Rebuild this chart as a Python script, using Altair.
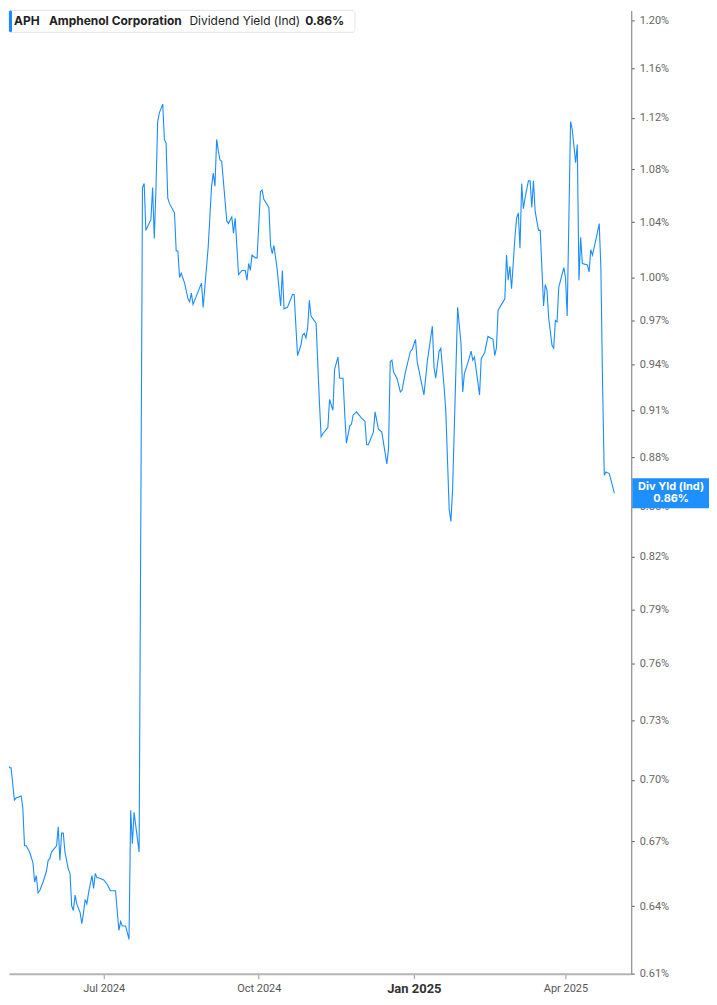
import altair as alt
import pandas as pd

dates = [
    "2024-05-01","2024-05-03","2024-05-04","2024-05-06","2024-05-07","2024-05-09","2024-05-10","2024-05-13",
    "2024-05-14","2024-05-15","2024-05-16","2024-05-18","2024-05-20","2024-05-21","2024-05-22","2024-05-23",
    "2024-05-24","2024-05-26","2024-05-28","2024-05-29","2024-05-30","2024-05-31","2024-06-03","2024-06-04",
    "2024-06-05","2024-06-06","2024-06-07","2024-06-08","2024-06-10","2024-06-11","2024-06-12","2024-06-13",
    "2024-06-14","2024-06-15","2024-06-17","2024-06-18","2024-06-19","2024-06-20","2024-06-21","2024-06-22",
    "2024-06-24","2024-06-25","2024-06-26","2024-06-27","2024-06-28","2024-07-01","2024-07-03","2024-07-05",
    "2024-07-06","2024-07-08","2024-07-10","2024-07-11","2024-07-12","2024-07-14","2024-07-16","2024-07-17",
    "2024-07-18","2024-07-19","2024-07-22","2024-07-24","2024-07-25","2024-07-26","2024-07-29","2024-07-30",
    "2024-07-31","2024-08-01","2024-08-02","2024-08-03","2024-08-05","2024-08-06","2024-08-07","2024-08-08",
    "2024-08-09","2024-08-12","2024-08-13","2024-08-14","2024-08-15","2024-08-16","2024-08-18","2024-08-20",
    "2024-08-21","2024-08-22","2024-08-23","2024-08-25","2024-08-28","2024-08-29","2024-09-01","2024-09-03",
    "2024-09-04","2024-09-05","2024-09-06","2024-09-07","2024-09-08","2024-09-09","2024-09-12","2024-09-13",
    "2024-09-15","2024-09-16","2024-09-17","2024-09-19","2024-09-21","2024-09-23","2024-09-24","2024-09-25",
    "2024-09-26","2024-09-27","2024-09-29","2024-09-30","2024-10-02","2024-10-03","2024-10-04","2024-10-07",
    "2024-10-08","2024-10-09","2024-10-10","2024-10-12","2024-10-14","2024-10-15","2024-10-16","2024-10-18",
    "2024-10-21","2024-10-22","2024-10-24","2024-10-26","2024-10-27","2024-10-28","2024-10-29","2024-10-30",
    "2024-10-31","2024-11-01","2024-11-04","2024-11-06","2024-11-07","2024-11-08","2024-11-11","2024-11-12",
    "2024-11-14","2024-11-15","2024-11-17","2024-11-18","2024-11-20","2024-11-21","2024-11-22","2024-11-24",
    "2024-11-25","2024-11-26","2024-11-28","2024-12-01","2024-12-03","2024-12-04","2024-12-05","2024-12-08",
    "2024-12-09","2024-12-11","2024-12-13","2024-12-16","2024-12-17","2024-12-18","2024-12-19","2024-12-20",
    "2024-12-22","2024-12-24","2024-12-25","2024-12-27","2024-12-30","2024-12-31","2025-01-02","2025-01-03",
    "2025-01-07","2025-01-09","2025-01-12","2025-01-13","2025-01-14","2025-01-16","2025-01-17","2025-01-19",
    "2025-01-20","2025-01-22","2025-01-23","2025-01-24","2025-01-27","2025-01-29","2025-01-30","2025-01-31",
    "2025-02-02","2025-02-04","2025-02-05","2025-02-06","2025-02-09","2025-02-10","2025-02-12","2025-02-14",
    "2025-02-17","2025-02-18","2025-02-19","2025-02-20","2025-02-23","2025-02-24","2025-02-25","2025-02-26",
    "2025-02-27","2025-02-28","2025-03-02","2025-03-03","2025-03-04","2025-03-05","2025-03-06","2025-03-07",
    "2025-03-08","2025-03-10","2025-03-11","2025-03-12","2025-03-13","2025-03-14","2025-03-16","2025-03-17",
    "2025-03-19","2025-03-20","2025-03-21","2025-03-22","2025-03-24","2025-03-25","2025-03-26","2025-03-27",
    "2025-03-28","2025-03-31","2025-04-01","2025-04-02","2025-04-04","2025-04-05","2025-04-07","2025-04-08",
    "2025-04-09","2025-04-10","2025-04-11","2025-04-14","2025-04-15","2025-04-16","2025-04-17","2025-04-19",
    "2025-04-21","2025-04-22","2025-04-23","2025-04-24","2025-04-25","2025-04-27","2025-04-29","2025-04-30",
]

yield_pct = [
    0.739,0.719,0.712,0.706,0.706,0.690,0.691,0.692,
    0.686,0.668,0.668,0.665,0.660,0.651,0.654,0.646,
    0.647,0.651,0.656,0.661,0.662,0.665,0.668,0.677,
    0.661,0.674,0.674,0.665,0.657,0.655,0.640,0.638,
    0.645,0.641,0.637,0.632,0.637,0.643,0.641,0.646,
    0.654,0.648,0.655,0.653,0.653,0.652,0.650,0.647,
    0.647,0.647,0.629,0.633,0.631,0.631,0.625,0.685,
    0.669,0.684,0.665,1.066,1.069,1.034,1.042,1.066,
    1.028,1.065,1.117,1.124,1.131,1.103,1.100,1.058,
    1.054,1.047,1.019,1.019,1.000,1.003,0.996,0.985,
    0.983,0.989,0.981,0.987,0.996,0.979,1.022,1.067,
    1.077,1.067,1.103,1.094,1.087,1.086,1.041,1.039,
    1.044,1.032,1.043,1.002,1.005,1.005,0.998,1.010,
    1.005,1.016,1.014,1.014,1.063,1.064,1.057,1.051,
    1.023,1.017,1.023,1.005,0.980,1.005,0.978,0.979,
    0.988,0.988,0.946,0.953,0.960,0.961,0.958,0.965,
    0.984,0.973,0.968,0.915,0.893,0.895,0.899,0.917,
    0.910,0.937,0.945,0.931,0.931,0.908,0.889,0.900,
    0.901,0.907,0.909,0.905,0.903,0.888,0.888,0.896,
    0.909,0.898,0.896,0.876,0.886,0.942,0.943,0.935,
    0.931,0.922,0.923,0.935,0.949,0.950,0.957,0.942,
    0.920,0.942,0.966,0.938,0.931,0.949,0.951,0.925,
    0.909,0.848,0.841,0.860,0.979,0.954,0.922,0.934,
    0.941,0.949,0.943,0.945,0.920,0.944,0.948,0.959,
    0.957,0.946,0.951,0.977,0.983,0.985,1.016,0.998,
    1.008,0.992,1.029,1.043,1.047,1.021,1.069,1.050,
    1.058,1.071,1.071,1.051,1.071,1.048,1.034,1.034,
    0.980,0.995,0.991,0.972,0.953,0.951,0.970,0.969,
    0.993,1.007,1.000,0.973,1.117,1.111,1.085,1.099,
    0.998,1.029,1.010,1.009,1.004,1.020,1.016,1.027,
    1.039,1.007,0.927,0.869,0.871,0.870,0.862,0.858,
]

y_ticks = [0.61, 0.64, 0.67, 0.70, 0.73, 0.76, 0.79, 0.82, 0.85, 0.88,
           0.91, 0.94, 0.97, 1.00, 1.04, 1.08, 1.12, 1.16, 1.20]

legend_labels = ["APH", "Amphenol Corporation", "Dividend Yield (Ind)", "0.86%"]
badge_labels = ["Div Yld (Ind)", "0.86%"]

BLUE = "#1a8cff"
W, H = 624, 966

df = pd.DataFrame({"date": dates, "yield": yield_pct})
last = df.tail(1).copy()
last["l1"] = badge_labels[0]
last["l2"] = badge_labels[1]

x_scale = alt.Scale(
    type="utc",
    domain=[alt.DateTime(year=2024, month=5, date=5, hours=19, utc=True),
            alt.DateTime(year=2025, month=5, date=10, utc=True)],
)
y_scale = alt.Scale(type="log", domain=[0.61, 1.2088], nice=False, zero=False)

x_ticks = [alt.DateTime(year=2024, month=7, date=1, utc=True),
           alt.DateTime(year=2024, month=10, date=1, utc=True),
           alt.DateTime(year=2025, month=1, date=1, utc=True),
           alt.DateTime(year=2025, month=4, date=1, utc=True)]

x_axis = alt.Axis(
    values=x_ticks,
    labelExpr="utcFormat(datum.value, '%b %Y')",
    title=None, grid=False,
    domainColor="#b5b5b5", domainWidth=2,
    tickColor="#9a9a9a", tickSize=5, tickWidth=1,
    labelFont="Roboto", labelPadding=4,
    labelFontSize={"condition": {"test": "utcmonth(datum.value) == 0", "value": 13}, "value": 11},
    labelFontWeight={"condition": {"test": "utcmonth(datum.value) == 0", "value": "bold"}, "value": "normal"},
    labelColor={"condition": {"test": "utcmonth(datum.value) == 0", "value": "#333333"}, "value": "#555555"},
)
y_axis = alt.Axis(
    orient="right", values=y_ticks,
    labelExpr="format(datum.value, '.2f') + '%'",
    title=None, grid=False,
    domainColor="#8c8c8c", domainWidth=1.2,
    tickColor="#555555", tickSize=3,
    labelFont="Roboto", labelFontSize=11, labelColor="#666666", labelPadding=5,
)

line = alt.Chart(df).mark_line(color=BLUE, strokeWidth=1.1, clip=True).encode(
    x=alt.X("date:T", scale=x_scale, axis=x_axis),
    y=alt.Y("yield:Q", scale=y_scale, axis=y_axis),
)

# header legend box
box = alt.Chart(last).mark_rect(fill="white", stroke="#e3e3e3", strokeWidth=1, cornerRadius=3).encode(
    x=alt.value(0), x2=alt.value(347), y=alt.value(0), y2=alt.value(22)
)
accent = alt.Chart(last).mark_rect(fill=BLUE, cornerRadius=1.5).encode(
    x=alt.value(0), x2=alt.value(3), y=alt.value(0), y2=alt.value(22)
)
leg_x = [5, 40, 181, 297]
leg_w = ["bold", "bold", "normal", "bold"]
leg_layers = []
for lbl, lx, lw in zip(legend_labels, leg_x, leg_w):
    leg_layers.append(
        alt.Chart(last).mark_text(
            text=lbl, align="left", baseline="middle", font="Inter",
            fontSize=12, fontWeight=lw, color="#222222"
        ).encode(x=alt.value(lx), y=alt.value(11))
    )

# value badge on right axis
badge = alt.Chart(last).mark_rect(fill="#1e8fff", height=30, clip=False).encode(
    x=alt.value(W + 1), x2=alt.value(W + 78),
    y=alt.Y("yield:Q", scale=y_scale),
)
badge_t1 = alt.Chart(last).mark_text(
    align="center", baseline="middle", font="Inter", fontSize=11, fontWeight="bold", color="white", dy=-6.5
).encode(x=alt.value(W + 40), y=alt.Y("yield:Q", scale=y_scale), text="l1:N")
badge_t2 = alt.Chart(last).mark_text(
    align="center", baseline="middle", font="Inter", fontSize=11, fontWeight="bold", color="white", dy=6
).encode(x=alt.value(W + 40), y=alt.Y("yield:Q", scale=y_scale), text="l2:N")

chart = alt.layer(line, box, accent, *leg_layers, badge, badge_t1, badge_t2).properties(
    width=W, height=H, padding=0, background="white"
).configure_view(stroke=None)

chart.save("out.html", embed_options={"renderer": "svg", "actions": False})
